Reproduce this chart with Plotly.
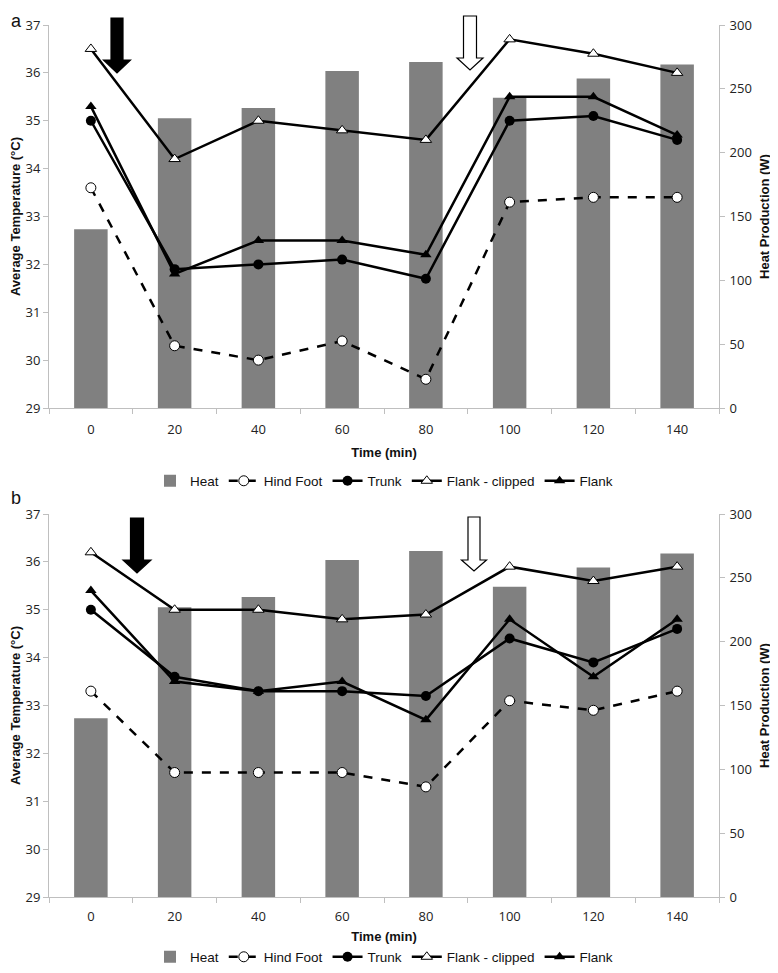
import plotly.graph_objects as go

times = ["0", "20", "40", "60", "80", "100", "120", "140"]
heat = [140, 227, 235, 264, 271, 243, 258, 269]

a_hind = [33.6, 30.3, 30.0, 30.4, 29.6, 33.3, 33.4, 33.4]
a_trunk = [35.0, 31.9, 32.0, 32.1, 31.7, 35.0, 35.1, 34.6]
a_clip = [36.5, 34.2, 35.0, 34.8, 34.6, 36.7, 36.4, 36.0]
a_flank = [35.3, 31.8, 32.5, 32.5, 32.2, 35.5, 35.5, 34.7]

b_hind = [33.3, 31.6, 31.6, 31.6, 31.3, 33.1, 32.9, 33.3]
b_trunk = [35.0, 33.6, 33.3, 33.3, 33.2, 34.4, 33.9, 34.6]
b_clip = [36.2, 35.0, 35.0, 34.8, 34.9, 35.9, 35.6, 35.9]
b_flank = [35.4, 33.5, 33.3, 33.5, 32.7, 34.8, 33.6, 34.8]

# page body has an 8px margin; work in screenshot pixel coordinates
OFF = 8
W, H = 770, 965
L, T = 49 - OFF, 25 - OFF
R = W - (719 - OFF)
B = H - (897 - OFF)
PW, PH = W - L - R, H - T - B


def px(x):
    return (x - OFF - L) / PW


def py(y):
    return (H - B - (y - OFF)) / PH


TICKF = dict(family="Open Sans, DejaVu Sans, sans-serif", size=13, color="#222")
TITLEF = dict(family="Liberation Sans Narrow, Arial Narrow, Liberation Sans, sans-serif", size=13, color="#111")
LEGF = dict(family="Liberation Sans Narrow, Arial Narrow, Liberation Sans, sans-serif", size=13.5, color="#111")

fig = go.Figure()


def add_panel(xa, ya_heat, ya_temp, legend, hind, trunk, clip, flank):
    fig.add_trace(go.Bar(x=times, y=heat, name="Heat", marker=dict(color="#808080", line=dict(width=0)),
                         width=0.4, xaxis=xa, yaxis=ya_heat, legend=legend))
    fig.add_trace(go.Scatter(x=times, y=hind, name="Hind Foot", mode="lines+markers",
                             line=dict(color="black", width=2.5, dash="dash"),
                             marker=dict(symbol="circle", size=10, color="white", line=dict(color="black", width=1)),
                             xaxis=xa, yaxis=ya_temp, legend=legend))
    fig.add_trace(go.Scatter(x=times, y=trunk, name="Trunk", mode="lines+markers",
                             line=dict(color="black", width=2.5),
                             marker=dict(symbol="circle", size=10, color="black"),
                             xaxis=xa, yaxis=ya_temp, legend=legend))
    fig.add_trace(go.Scatter(x=times, y=clip, name="Flank - clipped", mode="lines+markers",
                             line=dict(color="black", width=2.5),
                             marker=dict(symbol="triangle-up", size=10, color="white", line=dict(color="black", width=1)),
                             xaxis=xa, yaxis=ya_temp, legend=legend))
    fig.add_trace(go.Scatter(x=times, y=flank, name="Flank", mode="lines+markers",
                             line=dict(color="black", width=2.5),
                             marker=dict(symbol="triangle-up", size=10, color="black"),
                             xaxis=xa, yaxis=ya_temp, legend=legend))


add_panel("x", "y", "y2", "legend", a_hind, a_trunk, a_clip, a_flank)
add_panel("x2", "y3", "y4", "legend2", b_hind, b_trunk, b_clip, b_flank)

dom_a = [py(408), 1.0]
dom_b = [0.0, py(514)]

xcommon = dict(type="category", showline=True, linecolor="#bfbfbf", linewidth=1, ticks="outside",
               tickson="boundaries", ticklen=5, tickcolor="#bfbfbf", showgrid=False, zeroline=False,
               tickfont=TICKF, range=[-0.5, 7.5], automargin=False)
heatax = dict(range=[0, 300], dtick=50, side="right", showline=True, linecolor="#bfbfbf", ticks="outside",
              ticklen=5, tickcolor="#bfbfbf", showgrid=False, zeroline=False, tickfont=TICKF,
              ticklabelstandoff=2,
              title=dict(text="<b>Heat Production (W)</b>", font=TITLEF, standoff=8), automargin=False)
tempax = dict(range=[29, 37], dtick=1, side="left", showline=True, linecolor="#bfbfbf", ticks="outside",
              ticklen=5, tickcolor="#bfbfbf", showgrid=False, zeroline=False, tickfont=TICKF,
              title=dict(text="<b>Average Temperature (°C)</b>", font=TITLEF, standoff=1), automargin=False)

legcommon = dict(orientation="h", xanchor="center", x=0.5, yanchor="middle", font=LEGF,
                 bgcolor="rgba(0,0,0,0)", traceorder="normal", itemwidth=30, tracegroupgap=0)


def arrow(cx, top, head_y, tip, sw, hw):
    pts = [(cx - sw / 2, top), (cx + sw / 2, top), (cx + sw / 2, head_y), (cx + hw / 2, head_y),
           (cx, tip), (cx - hw / 2, head_y), (cx - sw / 2, head_y)]
    d = "M " + " L ".join(f"{px(x):.5f},{py(y):.5f}" for x, y in pts) + " Z"
    return d


shapes = []
for cx, top, hy, tip, sw, hw, fill in [
    (117, 18, 60, 73, 12, 27, "black"),
    (470, 16, 58, 70, 13, 26, "white"),
    (137, 518, 560, 573, 13, 28, "black"),
    (474, 517, 560, 571, 12, 25, "white"),
]:
    shapes.append(dict(type="path", xref="paper", yref="paper", path=arrow(cx, top, hy, tip, sw, hw),
                       fillcolor=fill, line=dict(color="black", width=1.2)))

fig.update_layout(
    width=W, height=H, margin=dict(l=L, r=R, t=T, b=B, autoexpand=False),
    paper_bgcolor="white", plot_bgcolor="white", barmode="overlay",
    xaxis=dict(xcommon, domain=[0, 1], anchor="y", ticklabelstandoff=9,
               title=dict(text="<b>Time (min)</b>", font=TITLEF, standoff=11)),
    yaxis=dict(heatax, domain=dom_a, anchor="x"),
    yaxis2=dict(tempax, overlaying="y", anchor="x"),
    xaxis2=dict(xcommon, domain=[0, 1], anchor="y3", ticklabelstandoff=7,
                title=dict(text="<b>Time (min)</b>", font=TITLEF, standoff=8)),
    yaxis3=dict(heatax, domain=dom_b, anchor="x2"),
    yaxis4=dict(tempax, overlaying="y3", anchor="x2"),
    legend=dict(legcommon, y=py(481)),
    legend2=dict(legcommon, y=py(957)),
    shapes=shapes,
    annotations=[
        dict(text="a", xref="paper", yref="paper", x=px(9), y=py(8.5), xanchor="left", yanchor="top",
             showarrow=False, font=dict(family="Liberation Sans, Arial, sans-serif", size=18, color="#111")),
        dict(text="b", xref="paper", yref="paper", x=px(9), y=py(486), xanchor="left", yanchor="top",
             showarrow=False, font=dict(family="Liberation Sans, Arial, sans-serif", size=18, color="#111")),
    ],
    showlegend=True,
)

fig.write_html("out.html")
